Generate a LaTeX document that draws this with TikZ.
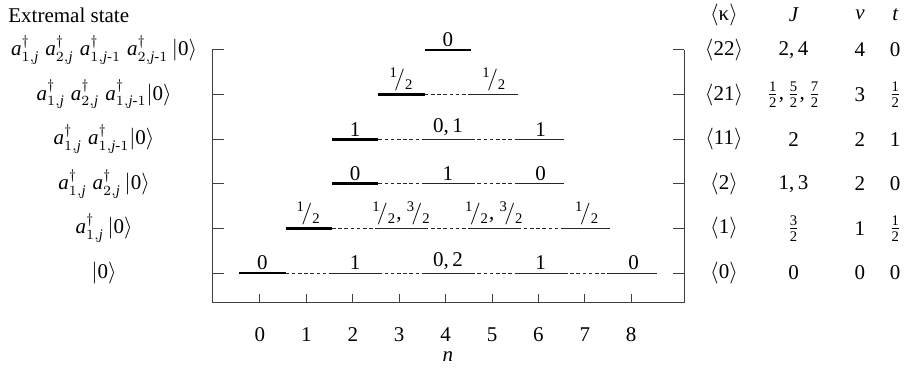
\documentclass[tikz,border=0pt]{standalone}
\usepackage{amsmath}
\usepackage{fontspec}
\setmainfont{Liberation Serif}
\usepackage{tikz}

\newcommand{\hf}[1]{$^{\text{#1}}\!/_{\text{2}}$}
\newcommand{\mi}[1]{\text{\itshape #1}}
\newcommand{\adag}[1]{\mi{a}^{\dagger}_{#1}}
\newcommand{\fr}[2]{$\frac{\text{#1}}{\text{#2}}$}

\begin{document}
\begin{tikzpicture}[
  x=23.2pt, y=22.3pt,
  font=\fontsize{10.5}{12}\selectfont,
  frm/.style={line width=0.5pt, black!75},
  lev/.style={line width=0.45pt, black!85},
  levx/.style={line width=1.4pt, black},
  gap/.style={line width=0.45pt, black!85, dash pattern=on 1.8pt off 1.3pt},
  lab/.style={anchor=south, inner sep=1.4pt},
  st/.style={anchor=center, inner sep=0pt}
]
  \useasboundingbox (-5.603,-2.332) rectangle (13.922,6.121);

  % --- frame with row ticks and n axis ---
  \draw[frm] (-1.034,5) -- (-1.034,-0.65) -- (9.138,-0.65) -- (9.138,5);
  \foreach \r in {0,...,5} {
    \draw[frm] (-1.034,\r) -- ++(0.26,0);
    \draw[frm] (9.138,\r) -- ++(-0.24,0);
  }
  \foreach \n in {0,...,8} {
    \draw[frm] (\n,-0.65) -- ++(0,0.18);
    \node[st] (t\n) at (\n,-1.38) {\n};
  }
  \node[st] (nlab) at (4.05,-1.88) {\itshape n};

  % --- levels (first of each row is the extremal one) ---
  \foreach \r/\n/\s/\txt in {
      0/0/levx/{0}, 0/2/lev/{1}, 0/4/lev/{0,\,2}, 0/6/lev/{1}, 0/8/lev/{0},
      1/1/levx/{\hf{1}}, 1/3/lev/{\hf{1}, \hf{3}}, 1/5/lev/{\hf{1}, \hf{3}}, 1/7/lev/{\hf{1}},
      2/2/levx/{0}, 2/4/lev/{1}, 2/6/lev/{0},
      3/2/levx/{1}, 3/4/lev/{0,\,1}, 3/6/lev/{1},
      4/3/levx/{\hf{1}}, 4/5/lev/{\hf{1}},
      5/4/levx/{0}} {
    \coordinate (a\r\n) at (\n-0.45,\r);
    \coordinate (b\r\n) at (\n+0.55,\r);
    \draw[\s] (a\r\n) -- (b\r\n);
    \node[lab] (L\r\n) at (\n+0.05,\r) {\txt};
  }

  % --- dashed links between neighbouring levels ---
  \foreach \r/\n in {0/0,0/2,0/4,0/6,1/1,1/3,1/5,2/2,2/4,3/2,3/4,4/3} {
    \pgfmathtruncatemacro{\m}{\n+2}
    \draw[gap] (b\r\n) -- (a\r\m);
  }

  % --- extremal states (left) ---
  \node[st, anchor=west] (ext) at (-5.431,5.785) {Extremal state};
  \node[st] (s5) at (-3.36,5) {$\adag{1,\mi{j}}\;\adag{2,\mi{j}}\;\adag{1,\mi{j}\text{-}1}\;\adag{2,\mi{j}\text{-}1}\,|\text{0}\rangle$};
  \node[st] (s4) at (-3.36,4) {$\adag{1,\mi{j}}\;\adag{2,\mi{j}}\;\adag{1,\mi{j}\text{-}1}|\text{0}\rangle$};
  \node[st] (s3) at (-3.36,3) {$\adag{1,\mi{j}}\;\adag{1,\mi{j}\text{-}1}|\text{0}\rangle$};
  \node[st] (s2) at (-3.36,2) {$\adag{1,\mi{j}}\;\adag{2,\mi{j}}\,|\text{0}\rangle$};
  \node[st] (s1) at (-3.36,1) {$\adag{1,\mi{j}}\,|\text{0}\rangle$};
  \node[st] (s0) at (-3.36,0) {$|\text{0}\rangle$};

  % --- quantum numbers (right) ---
  \node[st] (hk) at (10.0,5.785) {$\langle$κ$\rangle$};
  \node[st] (hJ) at (11.5,5.785) {\itshape J};
  \node[st] (hv) at (12.93,5.785) {\itshape v};
  \node[st] (ht) at (13.69,5.785) {\itshape t};
  \foreach \r/\k/\j/\v/\t in {
      5/22/{2,\,4}/4/0,
      4/21/{\fr12,\,\fr52,\,\fr72}/3/{\fr12},
      3/11/2/2/1,
      2/2/{1,\,3}/2/0,
      1/1/{\fr32}/1/{\fr12},
      0/0/0/0/0} {
    \node[st] (k\r) at (10.0,\r) {$\langle$\k$\rangle$};
    \node[st] (J\r) at (11.5,\r) {\j};
    \node[st] (v\r) at (12.93,\r) {\v};
    \node[st] (t\r) at (13.69,\r) {\t};
  }
\end{tikzpicture}
\end{document}
